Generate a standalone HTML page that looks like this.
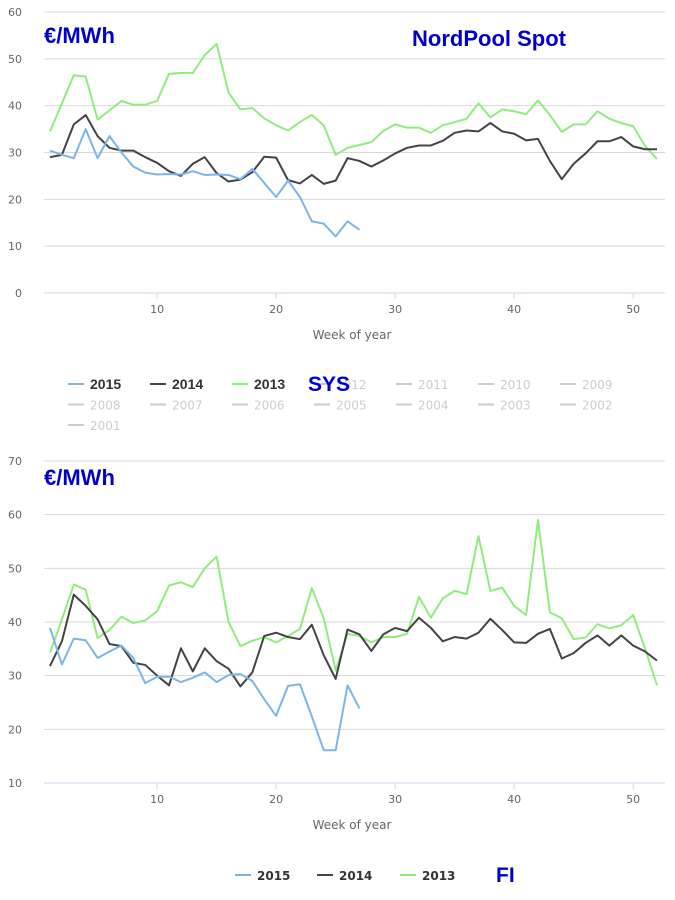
<!DOCTYPE html>
<html><head><meta charset="utf-8"><style>
body{margin:0;background:#fff;width:675px;height:900px;overflow:hidden}
svg{display:block}
text{font-family:"DejaVu Sans","Liberation Sans",sans-serif}
</style></head><body>
<svg id="s" width="675" height="900" xmlns="http://www.w3.org/2000/svg">
<text x="44" y="43" font-weight="bold" font-size="22" fill="#0000cc" style="font-family:'Liberation Sans',sans-serif">€/MWh</text>
<text x="412" y="46" font-weight="bold" font-size="22" fill="#0000cc" style="font-family:'Liberation Sans',sans-serif">NordPool Spot</text>
<text x="352" y="339" font-size="12" fill="#666" text-anchor="middle">Week of year</text>
<text x="44" y="485" font-weight="bold" font-size="22" fill="#0000cc" style="font-family:'Liberation Sans',sans-serif">€/MWh</text>
<text x="352" y="829" font-size="12" fill="#666" text-anchor="middle">Week of year</text>
</svg>
<script>
const s=document.getElementById('s');const NS='http://www.w3.org/2000/svg';
function el(t,a,txt){const e=document.createElementNS(NS,t);for(const k in a)e.setAttribute(k,a[k]);if(txt)e.textContent=txt;s.appendChild(e);return e;}
const X=w=>50+(w-1)*(607/51);
function chart(y0,yTop,vmin,vmax,step,series){
 const Y=v=>y0-(v-vmin)/(vmax-vmin)*(y0-yTop);
 for(let v=vmin;v<=vmax;v+=step){el('line',{x1:44,x2:665,y1:Y(v),y2:Y(v),stroke:v==vmin?'#ccd6eb':'#d8d8d8','stroke-width':1});
  el('text',{x:22,y:Y(v)+4,'font-size':11,fill:'#666','text-anchor':'end'},String(v));}
 for(let w=10;w<=50;w+=10){el('line',{x1:X(w),x2:X(w),y1:y0,y2:y0+6,stroke:'#ccd6eb'});
  el('text',{x:X(w),y:y0+20,'font-size':11,fill:'#666','text-anchor':'middle'},String(w));}
 series.forEach(([d,c])=>{el('polyline',{points:d.map((v,i)=>X(i+1)+','+Y(v)).join(' '),fill:'none',stroke:c,'stroke-width':2,'stroke-linejoin':'round'});});
}
const G='#90ed7d',K='#434348',B='#7cb5ec';
chart(293,12,0,60,10,[
[[34.5,40.5,46.5,46.2,37,39,41,40.2,40.2,41,46.8,47,47,50.8,53.2,42.8,39.2,39.5,37.3,35.8,34.7,36.5,38,35.8,29.5,31,31.6,32.2,34.6,36,35.3,35.3,34.2,35.8,36.5,37.2,40.5,37.5,39.2,38.8,38.2,41.1,38,34.4,36,36,38.8,37.2,36.3,35.6,31.4,28.6],G],
[[29,29.5,36,38,33.5,31,30.4,30.4,29,27.8,26,25,27.6,29,25.6,23.8,24.2,25.8,29.1,28.9,24.1,23.4,25.2,23.3,24,28.8,28.2,27,28.3,29.8,31,31.5,31.5,32.5,34.2,34.7,34.5,36.3,34.5,34,32.6,32.9,28.2,24.3,27.6,29.8,32.4,32.4,33.3,31.3,30.7,30.7],K],
[[30.4,29.5,28.8,35,28.8,33.5,30,27,25.7,25.3,25.4,25.3,26,25.2,25.3,25.2,24.3,26.5,23.5,20.5,24,20.5,15.3,14.8,12.1,15.3,13.5],B]]);
chart(783,461,10,70,10,[
[[34.3,40.5,47,46,37,38.5,41,39.8,40.3,42,46.8,47.4,46.5,50,52.2,40,35.5,36.5,37.2,36.2,37.4,38.7,46.3,40.7,31,37.8,37.4,36.2,37.2,37.2,37.8,44.7,40.8,44.4,45.8,45.2,56,45.8,46.4,43,41.3,59,41.8,40.7,36.8,37.1,39.6,38.8,39.4,41.3,35,28.2],G],
[[31.8,36.4,45.1,43,40.5,35.9,35.5,32.4,32,30,28.2,35.1,30.8,35.1,32.7,31.3,28,30.6,37.4,38,37.2,36.8,39.5,33.8,29.4,38.6,37.7,34.6,37.7,38.9,38.3,40.8,38.9,36.4,37.2,36.9,38,40.6,38.5,36.2,36.1,37.8,38.7,33.2,34.2,36.1,37.5,35.6,37.5,35.6,34.5,32.8],K],
[[38.9,32.1,36.9,36.6,33.3,34.5,35.6,33.3,28.6,29.8,29.8,28.8,29.6,30.6,28.8,30.1,30.3,29,25.6,22.5,28.1,28.4,22.4,16.1,16.1,28.2,23.9],B]]);
const yrs=[['2015',B,'#333'],['2014',K,'#333'],['2013',G,'#333']];
for(let y=2012;y>=2001;y--)yrs.push([String(y),'#ccc','#ccc']);
yrs.forEach((it,i)=>{const r=Math.floor(i/7),c=i%7;const x=68+c*82,y=384+r*20.5;
 el('line',{x1:x,x2:x+16,y1:y,y2:y,stroke:it[1],'stroke-width':2});
 el('text',{x:x+22,y:y+5,'font-size':12,'font-weight':r==0&&c<3?'bold':'normal',fill:it[2],style:r==0&&c<3?"font-family:'Liberation Sans',sans-serif;font-size:14px":""},it[0]);});
el('text',{x:308,y:391,'font-size':21,'font-weight':'bold',fill:'#0000cc',style:"font-family:'Liberation Sans',sans-serif"},'SYS');
[['2015',B,235],['2014',K,317],['2013',G,400]].forEach(it=>{const y=875;
 el('line',{x1:it[2],x2:it[2]+16,y1:y,y2:y,stroke:it[1],'stroke-width':2});
 el('text',{x:it[2]+22,y:y+5,'font-size':12,'font-weight':'bold',fill:'#333'},it[0]);});
el('text',{x:496,y:882,'font-size':21,'font-weight':'bold',fill:'#0000cc',style:"font-family:'Liberation Sans',sans-serif"},'FI');
</script>
</body></html>
